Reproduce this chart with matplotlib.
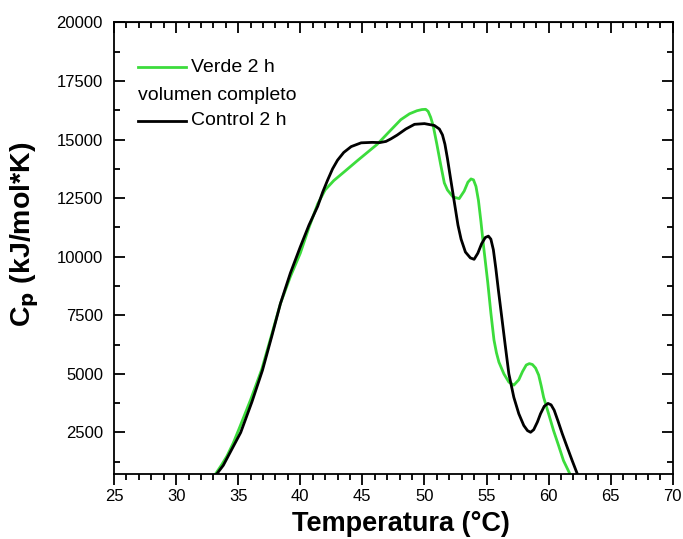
import matplotlib
matplotlib.use("Agg")
import matplotlib.pyplot as plt
from matplotlib.ticker import MultipleLocator

plt.rcParams['font.family'] = ['Liberation Sans', 'DejaVu Sans']

# curves (temperature in C, Cp in kJ/mol*K)
temp_verde = [33.2, 33.7, 34.1, 34.6, 35.1, 36.0, 36.9, 37.6, 38.4, 39.2, 40.0, 40.7, 41.4,
              42.0, 42.7, 43.6, 44.6, 45.4, 46.2, 47.1, 48.1, 48.8, 49.4, 49.8, 50.1, 50.3,
              50.5, 50.7, 51.0, 51.3, 51.6, 51.85, 52.3, 52.8, 53.2, 53.5, 53.75, 53.95, 54.15,
              54.35, 54.55, 54.75, 55.1, 55.35, 55.6, 55.8, 56.0, 56.4, 56.8, 57.2, 57.6, 57.9,
              58.2, 58.45, 58.7, 58.95, 59.2, 59.4, 59.6, 60.0, 60.4, 60.8, 61.2, 61.7]
cp_verde = [750, 1150, 1500, 2050, 2700, 3900, 5200, 6500, 8000, 9150, 10150, 11250, 12250,
            12850, 13250, 13650, 14100, 14450, 14800, 15300, 15850, 16100, 16230, 16280, 16290, 16200,
            15950, 15600, 14800, 13950, 13150, 12850, 12550, 12480, 12800, 13180, 13320, 13280, 13000,
            12400, 11500, 10500, 8900, 7600, 6450, 5900, 5500, 5000, 4650, 4520, 4750, 5100,
            5380, 5440, 5400, 5250, 4950, 4500, 4000, 3300, 2580, 1950, 1300, 750]

temp_control = [33.3, 33.8, 34.15, 34.7, 35.2, 36.1, 36.95, 37.7, 38.4, 39.2, 40.0, 40.7, 41.4,
                41.8, 42.2, 42.6, 43.0, 43.5, 44.1, 44.9, 45.8, 46.4, 46.9, 47.3, 47.8, 48.5,
                49.2, 50.0, 50.8, 51.2, 51.45, 51.65, 51.85, 52.1, 52.4, 52.7, 52.95, 53.3, 53.7,
                54.0, 54.3, 54.6, 54.9, 55.15, 55.35, 55.55, 55.75, 55.95, 56.15, 56.5, 56.8, 57.2,
                57.6, 58.0, 58.3, 58.55, 58.8, 59.1, 59.35, 59.65, 59.95, 60.2, 60.45, 60.75, 61.1,
                61.5, 61.9, 62.3]
cp_control = [750, 1100, 1450, 2000, 2500, 3800, 5150, 6600, 8000, 9300, 10420, 11350, 12150,
              12750, 13270, 13750, 14120, 14450, 14700, 14860, 14880, 14870, 14920, 15030, 15190, 15450,
              15650, 15680, 15600, 15450, 15200, 14800, 14200, 13350, 12350, 11350, 10750, 10200, 9950,
              9890, 10150, 10550, 10820, 10880, 10750, 10300, 9500, 8600, 7750, 6250, 5000, 4000,
              3300, 2800, 2580, 2510, 2620, 2950, 3300, 3620, 3740, 3680, 3450, 3000, 2450,
              1870, 1300, 750]

fig = plt.figure(figsize=(6.83, 5.39), dpi=100)
ax = fig.add_axes([0.167, 0.1215, 0.818, 0.837])

ax.plot(temp_verde, cp_verde, color='#3cdc3c', lw=2.0)
ax.plot(temp_control, cp_control, color='black', lw=2.0)

ax.set_xlim(25, 70)
ax.set_ylim(750, 20000)
ax.xaxis.set_major_locator(MultipleLocator(5))
ax.xaxis.set_minor_locator(MultipleLocator(1))
ax.yaxis.set_minor_locator(MultipleLocator(1250))
ax.set_yticks([2500, 5000, 7500, 10000, 12500, 15000, 17500, 20000])

for s in ax.spines.values():
    s.set_linewidth(1.3)

# Origin style: bottom ticks outward, the rest inward
ax.tick_params(axis='x', which='both', direction='out', labelsize=12, width=1.3, pad=3)
ax.tick_params(axis='x', which='major', length=8)
ax.tick_params(axis='x', which='minor', length=4)
ax.tick_params(axis='y', which='both', direction='in', labelsize=12, width=1.3, left=True, right=True)
ax.tick_params(axis='y', which='major', length=8, pad=8)
ax.tick_params(axis='y', which='minor', length=4)
sec = ax.secondary_xaxis('top')
sec.xaxis.set_major_locator(MultipleLocator(5))
sec.xaxis.set_minor_locator(MultipleLocator(1))
sec.tick_params(which='both', direction='in', labeltop=False, width=1.3)
sec.tick_params(which='major', length=8)
sec.tick_params(which='minor', length=4)

ax.set_xlabel('Temperatura (°C)', fontsize=19.5, fontweight='bold')
ax.xaxis.set_label_coords(0.513, -0.083)
ax.set_ylabel('C$_\\mathbf{p}$ (kJ/mol*K)', fontsize=20.5, fontweight='bold')
ax.yaxis.set_label_coords(-0.13, 0.53)

# legend drawn in the Origin layout
ax.plot([0.043, 0.129], [0.901, 0.901], color='#3cdc3c', lw=2.0, transform=ax.transAxes)
ax.text(0.138, 0.901, 'Verde 2 h', fontsize=14, va='center', transform=ax.transAxes)
ax.text(0.043, 0.839, 'volumen completo', fontsize=14, va='center', transform=ax.transAxes)
ax.plot([0.043, 0.129], [0.782, 0.782], color='black', lw=2.0, transform=ax.transAxes)
ax.text(0.138, 0.782, 'Control 2 h', fontsize=14, va='center', transform=ax.transAxes)

fig.savefig('out.png', dpi=100)
